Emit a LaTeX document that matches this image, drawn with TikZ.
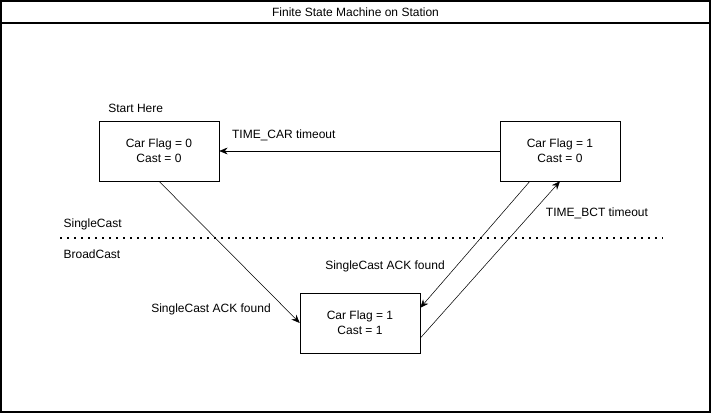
\documentclass[tikz,border=0pt]{standalone}
\usepackage{fontspec}
\setmainfont{Liberation Sans}
\usetikzlibrary{arrows.meta, positioning, calc}
\tikzset{
	state/.style   ={rectangle, draw=black, minimum width=90pt, minimum height=45pt, align=center, inner sep=0pt},
	trans/.style   ={-{Stealth[length=2.2mm, width=1.8mm]}, thin},
	lbl/.style     ={inner sep=1pt, font=\small},
}
\begin{document}
\begin{tikzpicture}[x=0.75pt, y=-0.75pt, font=\small]
	\useasboundingbox (0,0) rectangle (711,413);
	% frame and title bar
	\draw[line width=0.9pt] (1,1) rectangle (710,412);
	\draw[line width=0.9pt] (1,23) -- (710,23);
	\node (title) at (355.5,12) {Finite State Machine on Station};
	% states
	\node[state] (s00) at (159,151) {Car Flag = 0\\ Cast = 0};
	\node[state] (s10) at (560,151) {Car Flag = 1\\ Cast = 0};
	\node[state] (s11) at (360,323) {Car Flag = 1\\ Cast = 1};
	\node[lbl, above=5pt of s00.north west, anchor=south west, xshift=6pt] (start) {Start Here};
	% cast border
	\coordinate (dl) at (60,238);
	\coordinate (dr) at (663,238);
	\draw[line width=1.4pt, dash pattern=on 1.4pt off 3.85pt] (dl) -- (dr);
	\node[lbl, anchor=west] (single) at (62,224) {SingleCast};
	\node[lbl, anchor=west] (broad) at (62,254) {BroadCast};
	% transitions
	\draw[trans] (s10.west) -- node[above=4pt, pos=0.77] {TIME\_CAR timeout} (s00.east);
	\draw[trans] ($(s00.south west)!0.5!(s00.south east)$) -- ($(s11.north west)!0.5!(s11.south west)$);
	\node[lbl] (ack1) at (211,309) {SingleCast ACK found};
	\draw[trans] ($(s10.south west)!0.25!(s10.south east)$) -- ($(s11.north east)!0.25!(s11.south east)$);
	\node[lbl] (ack2) at (385,266) {SingleCast ACK found};
	\draw[trans] ($(s11.north east)!0.75!(s11.south east)$) -- (s10.south);
	\node[lbl] (bct) at (597,213) {TIME\_BCT timeout};
\end{tikzpicture}
\end{document}
